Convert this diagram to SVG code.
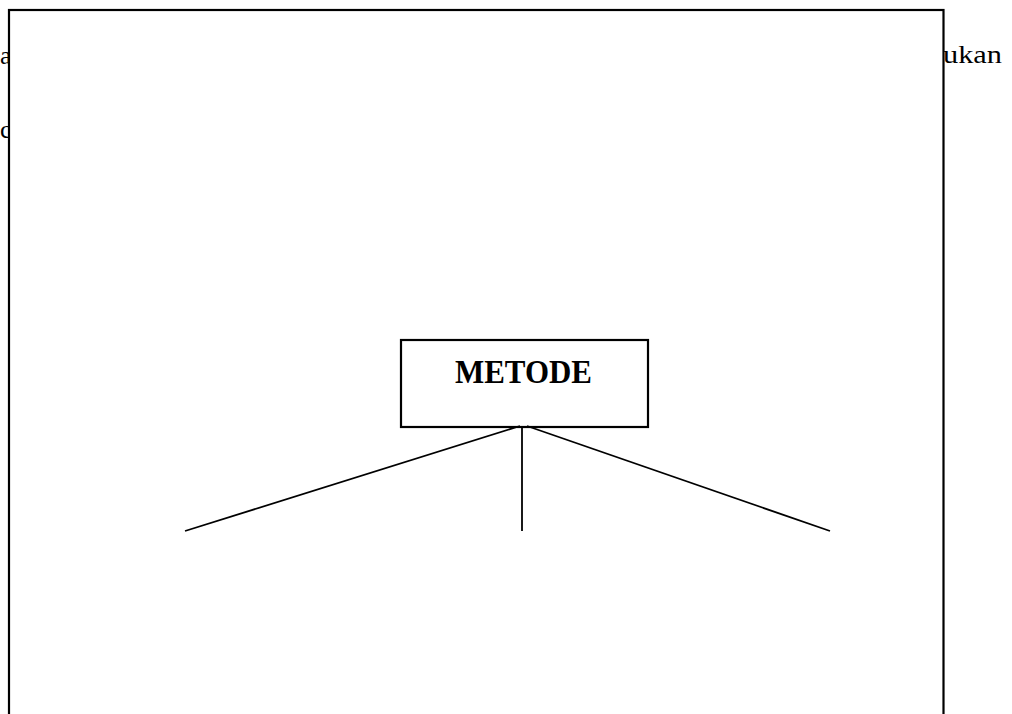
<svg xmlns="http://www.w3.org/2000/svg" width="1012" height="714" viewBox="0 0 1012 714">
  <style>
    .body { font-family: 'Liberation Serif', Tinos, 'Times New Roman', Times, serif; font-size: 26px; fill: #000; }
    .frame { fill: #fff; stroke: #000; stroke-width: 2.2; }
    .node { fill: #fff; stroke: #000; stroke-width: 2.2; }
    .label { font-family: 'Liberation Serif', Tinos, 'Times New Roman', Times, serif; font-size: 34px; font-weight: bold; fill: #000; }
    .edge { stroke: #000; stroke-width: 1.8; fill: none; }
  </style>
  <rect width="1012" height="714" fill="#fff"/>
  <!-- surrounding paragraph text, partly covered by the frame -->
  <text class="body" x="0" y="64">a</text>
  <text class="body" x="0" y="138">c</text>
  <text class="body" x="943" y="63" textLength="59" lengthAdjust="spacingAndGlyphs">ukan</text>
  <!-- frame -->
  <rect class="frame" x="9" y="10" width="934.5" height="720"/>
  <g id="metode">
    <rect class="node" x="401" y="340" width="247" height="87"/>
    <text class="label" x="523.5" y="383" text-anchor="middle" textLength="137" lengthAdjust="spacingAndGlyphs">METODE</text>
  </g>
  <g id="connectors">
    <line class="edge" x1="520" y1="426" x2="185" y2="531"/>
    <line class="edge" x1="522" y1="426" x2="522" y2="531"/>
    <line class="edge" x1="527" y1="426" x2="830" y2="531"/>
  </g>
</svg>
